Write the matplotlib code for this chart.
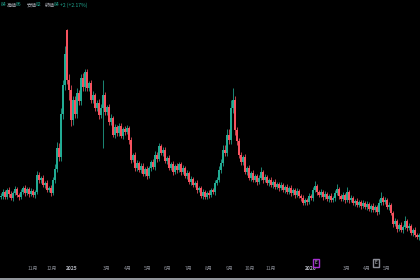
import matplotlib
matplotlib.use("Agg")
import matplotlib.pyplot as plt
import matplotlib.transforms as mtransforms
import numpy as np

# ---- data (price units) ----
closes = [
    123, 127, 122, 129, 125, 121, 126, 130, 124, 122,
    127, 131, 126, 130, 125, 128, 124, 127, 144, 139,
    141, 134, 136, 129, 131, 126, 139, 150, 171, 162,
    205, 234, 265, 239, 229, 199, 219, 205, 226, 218,
    241, 232, 247, 231, 236, 219, 224, 211, 216, 204,
    211, 224, 207, 212, 197, 201, 184, 192, 186, 193,
    183, 190, 187, 191, 179, 159, 164, 151, 156, 149,
    153, 145, 150, 143, 151, 157, 152, 164, 160, 173,
    166, 169, 158, 161, 151, 155, 147, 153, 149, 155,
    147, 151, 143, 146, 137, 140, 134, 136, 129, 131,
    123, 127, 122, 126, 124, 129, 127, 136, 139, 149,
    156, 169, 166, 184, 179, 211, 219, 189, 178, 164,
    157, 162, 147, 151, 141, 146, 139, 143, 137, 141,
    147, 139, 142, 136, 139, 134, 137, 132, 135, 131,
    134, 129, 132, 127, 131, 126, 129, 124, 128, 123,
    121, 116, 119, 117, 123, 121, 129, 133, 127, 124,
    127, 122, 125, 120, 123, 119, 121, 126, 130, 123,
    120, 124, 119, 127, 119, 121, 116, 118, 114, 117,
    113, 116, 112, 115, 110, 113, 109, 112, 107, 116,
    121, 117, 119, 112, 114, 106, 95, 98, 90, 94,
    89, 92, 98, 91, 93, 86, 89, 84, 82, 84,
]
first_open = 122
open_gaps = {33: 289}
wick_up = [
    3, 3, 2, 2, 3, 3, 2, 3, 2, 2,
    3, 2, 3, 2, 2, 3, 2, 2, 4, 3,
    2, 3, 2, 3, 2, 3, 3, 5, 6, 5,
    6, 5, 8, 1, 6, 5, 4, 4, 5, 3,
    4, 5, 3, 3, 2, 3, 4, 2, 3, 4,
    4, 15, 3, 2, 3, 4, 2, 3, 2, 3,
    3, 2, 3, 3, 2, 3, 2, 3, 3, 2,
    3, 3, 2, 3, 2, 2, 3, 4, 3, 3,
    2, 3, 3, 2, 3, 2, 3, 2, 3, 2,
    2, 3, 2, 3, 2, 3, 2, 2, 3, 2,
    2, 3, 2, 2, 3, 2, 2, 3, 3, 4,
    4, 5, 5, 6, 6, 8, 12, 4, 3, 3,
    3, 2, 3, 2, 3, 2, 3, 2, 2, 3,
    5, 2, 3, 2, 2, 3, 2, 3, 2, 2,
    3, 2, 2, 3, 2, 3, 2, 2, 3, 2,
    2, 3, 2, 2, 3, 2, 3, 5, 2, 2,
    3, 2, 3, 2, 2, 3, 2, 3, 5, 2,
    2, 3, 2, 5, 2, 3, 2, 2, 3, 2,
    2, 3, 2, 3, 2, 2, 3, 2, 2, 4,
    6, 2, 3, 2, 3, 2, 2, 3, 2, 2,
    3, 2, 5, 2, 3, 2, 2, 3, 2, 2,
]
wick_down = [
    2, 3, 2, 2, 3, 2, 3, 2, 2, 3,
    2, 2, 3, 2, 3, 2, 2, 3, 2, 3,
    3, 2, 3, 2, 2, 3, 2, 3, 3, 4,
    4, 5, 5, 4, 10, 6, 5, 4, 4, 4,
    4, 4, 4, 3, 3, 3, 3, 3, 3, 4,
    3, 40, 3, 3, 3, 3, 2, 3, 3, 3,
    2, 3, 3, 2, 4, 3, 2, 3, 3, 2,
    3, 2, 2, 3, 2, 3, 2, 3, 3, 2,
    2, 3, 2, 3, 2, 2, 3, 2, 3, 2,
    3, 2, 2, 3, 2, 3, 2, 2, 3, 2,
    2, 3, 2, 2, 3, 2, 2, 3, 2, 2,
    3, 3, 3, 3, 4, 4, 5, 5, 4, 3,
    3, 3, 2, 3, 2, 3, 2, 2, 3, 2,
    2, 3, 2, 2, 3, 2, 3, 2, 2, 3,
    2, 2, 3, 2, 2, 3, 2, 3, 2, 2,
    3, 2, 2, 3, 2, 2, 3, 2, 3, 2,
    2, 3, 2, 2, 3, 2, 2, 3, 2, 3,
    2, 2, 3, 2, 3, 2, 2, 3, 2, 2,
    3, 2, 2, 3, 2, 3, 2, 2, 3, 2,
    2, 3, 2, 2, 3, 2, 3, 2, 3, 2,
    2, 3, 2, 3, 2, 2, 3, 2, 2, 3,
]
month_pos = [16, 25.5, 35.5, 53, 63.5, 73.5, 83.5, 94, 104, 114.5, 124.5, 135, 155, 173, 183, 193]
month_labels = ["11月", "12月", "2025", "3月", "4月", "5月", "6月", "7月", "8月", "9月", "10月", "11月", "2026", "3月", "4月", "5月"]
earn_pos = [157.5, 187.5]
earn_colors = ["#a431d0", "#8a8d96"]

UP = "#22ab94"
DOWN = "#f7525f"
JP = ["Noto Sans CJK JP", "DejaVu Sans"]

opens = [first_open] + closes[:-1]
for k, v in open_gaps.items():
    opens[k] = v
o = np.array(opens, float)
c = np.array(closes, float)
hi = np.maximum(o, c) + np.array(wick_up, float)
lo = np.minimum(o, c) - np.array(wick_down, float)
idx = np.arange(len(c))
up = c >= o
cols = np.where(up, UP, DOWN)

fig = plt.figure(figsize=(4.2, 2.8), dpi=100)
fig.patch.set_facecolor("black")
ax = fig.add_axes([0, 0, 1, 1])
ax.set_facecolor("black")
for s in ax.spines.values():
    s.set_visible(False)
ax.set_xticks([])
ax.set_yticks([])
ax.set_xlim(-0.5, len(c) - 0.5)
ax.set_ylim(39, 319)

ax.vlines(idx, lo, hi, colors=cols, linewidth=0.55)
bottom = np.minimum(o, c)
height = np.maximum(np.abs(c - o), 0.8)
ax.bar(idx, height, bottom=bottom, width=0.72, color=cols, linewidth=0)

trans = mtransforms.blended_transform_factory(ax.transData, ax.transAxes)
for p, lab in zip(month_pos, month_labels):
    bold = lab.isdigit()
    ax.text(p, 1 - 268 / 280, lab, transform=trans, ha="center", va="center",
            fontsize=3.6, color="#b2b5be" if bold else "#8a8d96",
            fontweight="bold" if bold else "normal", family=JP)
for p, ec in zip(earn_pos, earn_colors):
    ax.text(p, 1 - 263 / 280, "E", transform=trans, ha="center", va="center",
            fontsize=3.4, color="#d1d4dc", family=JP,
            bbox=dict(boxstyle="square,pad=0.35", fc="black", ec=ec, lw=1.0))

ax.axhline(39.8, color="#b0b3bb", lw=1.2)

# header
segs = [(0, "84", UP), (6, "高値", "#b2b5be"), (15, "86", UP),
        (26, "安値", "#b2b5be"), (35, "82", UP),
        (44, "終値", "#b2b5be"), (53, "84", UP),
        (59, "+2 (+2.17%)", UP)]
for xp, t, col in segs:
    fig.text((xp + 0.5) / 420, 1 - 5 / 280, t, color=col, fontsize=3.6, ha="left",
             va="center", family=JP)

fig.savefig("out.png", dpi=100, facecolor="black")
